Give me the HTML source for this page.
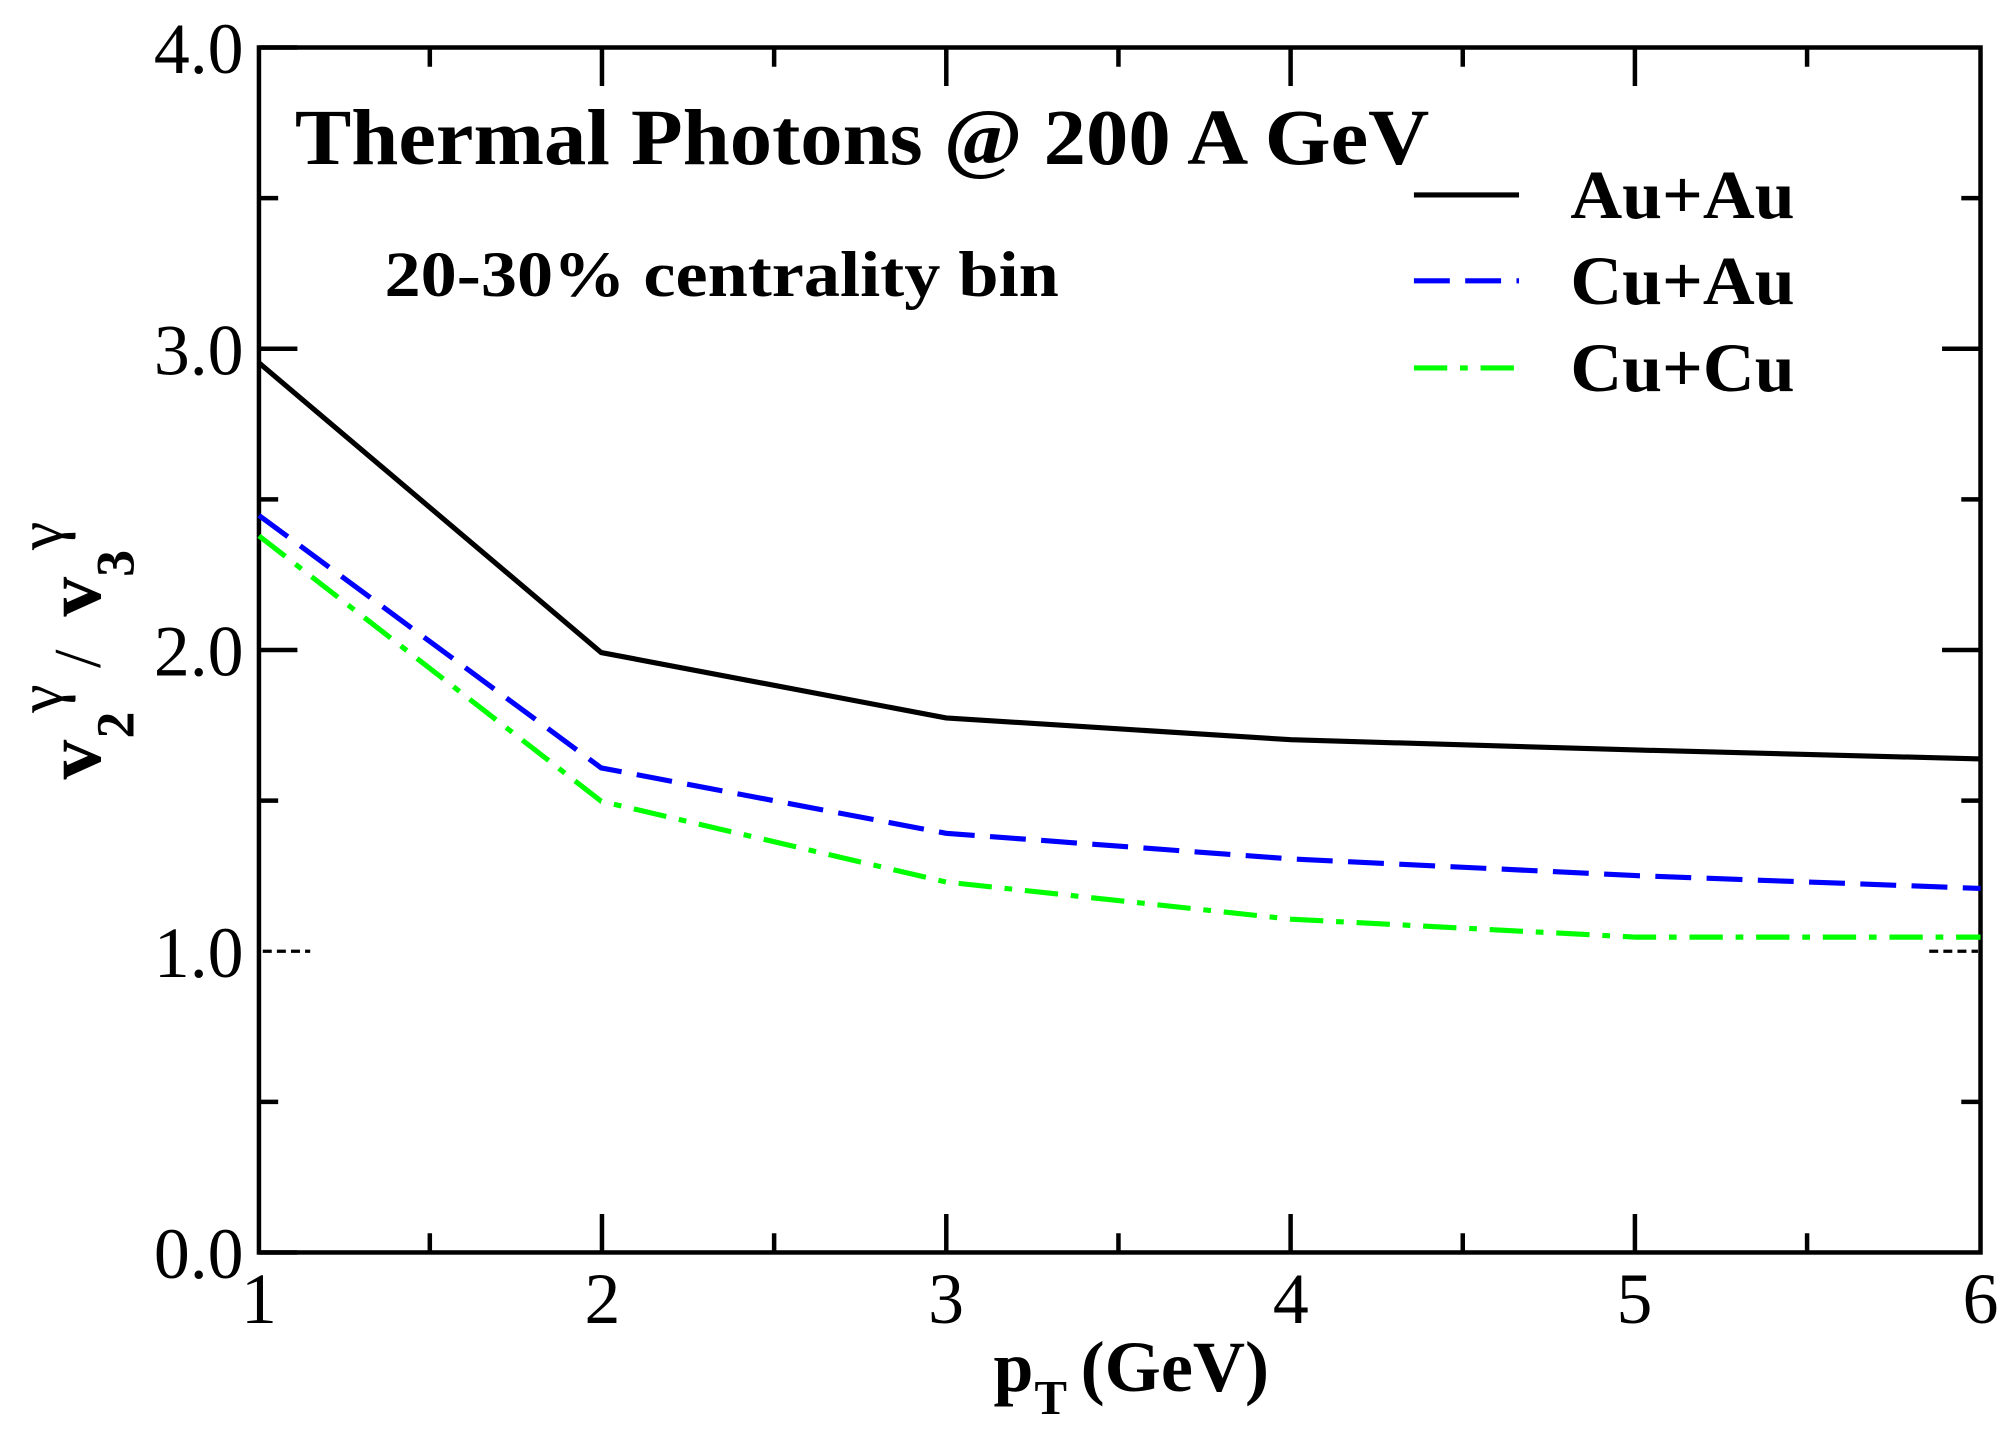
<!DOCTYPE html>
<html><head><style>body{margin:0;background:#fff}svg{display:block}</style></head>
<body>
<svg width="2010" height="1432" viewBox="0 0 1568 1117" xmlns="http://www.w3.org/2000/svg" font-family="'Liberation Serif',serif">
<rect width="1568" height="1117" fill="#fff"/>
<g stroke="#000" stroke-width="3.5" fill="none">
<rect x="202" y="37" width="1343" height="940"/>
<path d="M202 977h30M202 507h30M202 272h30M202 37h30 M1545 507h-30M1545 272h-30 M202 859.5h15M202 624.5h15M202 389.5h15M202 154.5h15 M1545 859.5h-15M1545 624.5h-15M1545 389.5h-15M1545 154.5h-15"/>
<path d="M469.6 977v-30M738.2 977v-30M1006.8 977v-30M1275.4 977v-30 M469.6 37v30M738.2 37v30M1006.8 37v30M1275.4 37v30 M335.3 977v-15M603.9 977v-15M872.5 977v-15M1141.1 977v-15M1409.7 977v-15 M335.3 37v15M603.9 37v15M872.5 37v15M1141.1 37v15M1409.7 37v15"/>
</g>
<g stroke="#000" stroke-width="2.5" stroke-dasharray="7,4">
<line x1="205" y1="742" x2="242" y2="742"/><line x1="1505" y1="742" x2="1543" y2="742"/>
</g>
<polyline points="202,283 469,509 738,560 1007,577 1276,585 1545,592" fill="none" stroke="#000" stroke-width="4"/>
<polyline points="202,402 469,599 738,650 1007,670 1276,683 1545,693" fill="none" stroke="#00f" stroke-width="4" stroke-dasharray="28,12"/>
<polyline points="202,418 469,625 738,688 1007,717 1276,731 1545,731" fill="none" stroke="#0f0" stroke-width="4" stroke-dasharray="26,10,6,10"/>
<g font-size="56" text-anchor="end">
<text x="190" y="997">0.0</text><text x="190" y="762">1.0</text><text x="190" y="527">2.0</text><text x="190" y="292">3.0</text><text x="190" y="57">4.0</text>
</g>
<g font-size="56" text-anchor="middle">
<text x="202" y="1032">1</text><text x="470" y="1032">2</text><text x="738" y="1032">3</text><text x="1007" y="1032">4</text><text x="1275" y="1032">5</text><text x="1545" y="1032">6</text>
</g>
<text x="775" y="1085" font-size="56" font-weight="bold">p</text>
<text x="807" y="1103" font-size="38" font-weight="bold">T</text>
<text x="843" y="1085" font-size="56" font-weight="bold" textLength="147" lengthAdjust="spacingAndGlyphs">(GeV)</text>
<g transform="translate(78,608) rotate(-90)" font-weight="bold">
<text x="0" y="0" font-size="62">v</text>
<text x="32" y="26" font-size="42">2</text>
<text x="52" y="-30" font-size="50" font-weight="normal">γ</text>
<text x="87" y="0" font-size="52" font-weight="normal">/</text>
<text x="127" y="0" font-size="62">v</text>
<text x="158" y="26" font-size="42">3</text>
<text x="179" y="-30" font-size="50" font-weight="normal">γ</text>
</g>
<text x="230" y="128" font-size="62" font-weight="bold" textLength="885" lengthAdjust="spacingAndGlyphs">Thermal Photons @ 200 A GeV</text>
<text x="300" y="231" font-size="50" font-weight="bold" textLength="526" lengthAdjust="spacingAndGlyphs">20-30% centrality bin</text>
<g stroke-width="4" fill="none">
<line x1="1103" y1="152" x2="1185" y2="152" stroke="#000"/>
<line x1="1103" y1="219" x2="1185" y2="219" stroke="#00f" stroke-dasharray="28,12"/>
<line x1="1103" y1="287" x2="1185" y2="287" stroke="#0f0" stroke-dasharray="26,10,6,10"/>
</g>
<g font-size="54" font-weight="bold">
<text x="1225" y="170" textLength="175" lengthAdjust="spacingAndGlyphs">Au+Au</text>
<text x="1225" y="237" textLength="175" lengthAdjust="spacingAndGlyphs">Cu+Au</text>
<text x="1225" y="305" textLength="175" lengthAdjust="spacingAndGlyphs">Cu+Cu</text>
</g>
</svg>
</body></html>
